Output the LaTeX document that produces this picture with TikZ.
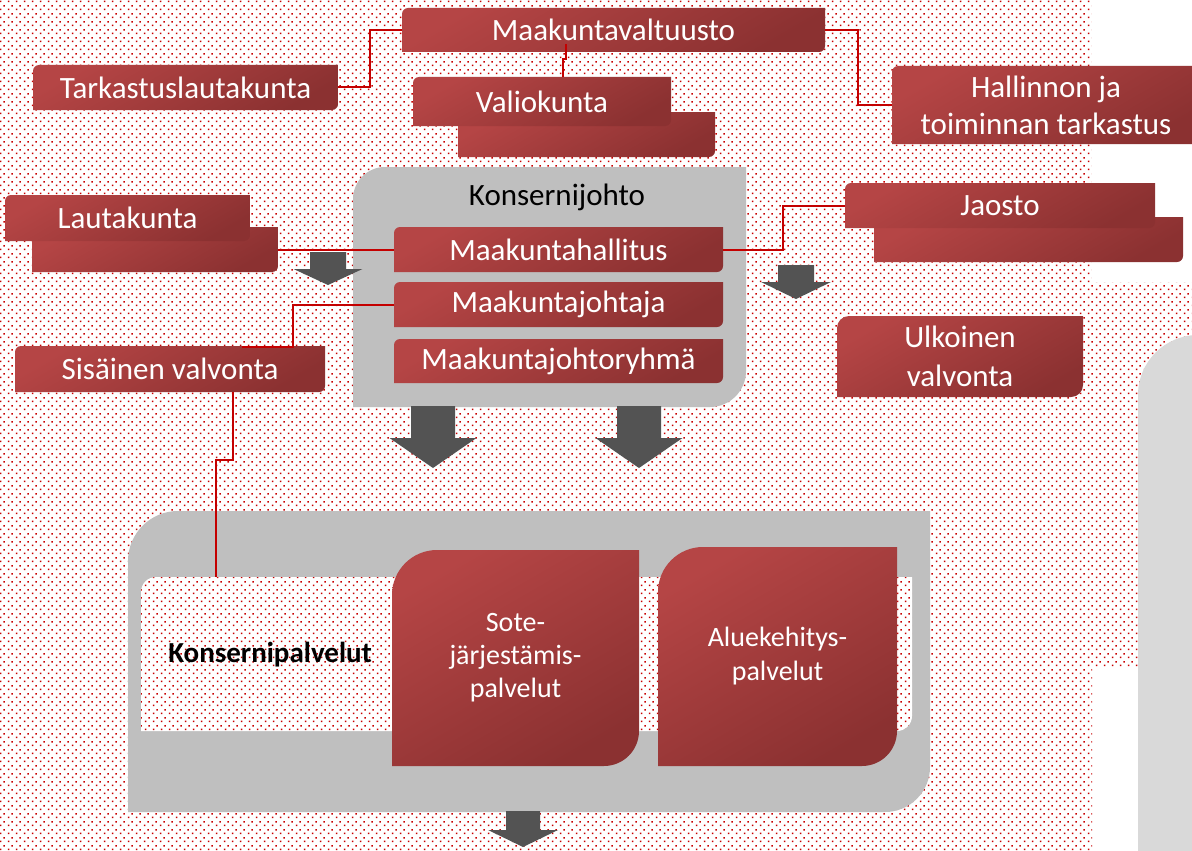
\documentclass[tikz,border=0pt]{standalone}
\usepackage{fontspec}
\setmainfont{Carlito}
\usetikzlibrary{patterns}
\definecolor{dotred}{RGB}{200,0,0}
\definecolor{linered}{RGB}{196,0,0}
\definecolor{rtop}{RGB}{181,69,69}
\definecolor{rbot}{RGB}{139,49,49}
\definecolor{gray1}{RGB}{191,191,191}
\definecolor{gray2}{RGB}{217,217,217}
\definecolor{arrowgray}{RGB}{83,83,83}
\pgfdeclarepatternformonly{reddots}{\pgfpointorigin}{\pgfqpoint{8pt}{8pt}}{\pgfqpoint{8pt}{8pt}}{%
  \pgfpathrectangle{\pgfqpoint{1pt}{1pt}}{\pgfqpoint{1.6pt}{1.6pt}}%
  \pgfpathrectangle{\pgfqpoint{5pt}{5pt}}{\pgfqpoint{1.6pt}{1.6pt}}%
  \pgfusepath{fill}}
% rectangle (x1,y1)-(x2,y2) in pixel coordinates, top-left radius #5, bottom-right radius #6
\newcommand\rdpath[6]{(#1,#4) -- (#1,#2+#5) .. controls (#1,#2+0.448*#5) and (#1+0.448*#5,#2) .. (#1+#5,#2) -- (#3,#2) -- (#3,#4-#6) .. controls (#3,#4-0.448*#6) and (#3-0.448*#6,#4) .. (#3-#6,#4) -- cycle}
% block arrow: centre x, top y, shaft half width, head base y, head half width, tip y
\newcommand\blockarrow[6]{\fill[arrowgray] (#1-#3,#2) -- (#1+#3,#2) -- (#1+#3,#4) -- (#1+#5,#4) -- (#1,#6) -- (#1-#5,#4) -- (#1-#3,#4) -- cycle;}
\tikzset{
  rbox/.style 2 args={rectangle, inner sep=0pt, outer sep=0pt, text=white, align=center,
    draw, draw opacity=0,
    path picture={%
      \pgfpointanchor{path picture bounding box}{south west}\pgfgetlastxy\rbxa\rbya
      \pgfpointanchor{path picture bounding box}{north east}\pgfgetlastxy\rbxb\rbyb
      \shade[top color=rtop, bottom color=rbot, shading angle=30]
        (\rbxa,\rbya) -- (\rbxa,\rbyb-#1)
        .. controls (\rbxa,\rbyb-0.448*#1) and (\rbxa+0.448*#1,\rbyb) .. (\rbxa+#1,\rbyb)
        -- (\rbxb,\rbyb) -- (\rbxb,\rbya+#2)
        .. controls (\rbxb,\rbya+0.448*#2) and (\rbxb-0.448*#2,\rbya) .. (\rbxb-#2,\rbya)
        -- cycle;}},
  tbox/.style={rbox={6pt}{6pt}, font=\fontsize{31}{37}\selectfont},
  conn/.style={draw=linered, line width=2pt},
  dots/.style={pattern=reddots, pattern color=dotred},
}
\begin{document}
\begin{tikzpicture}[x=1pt,y=-1pt]
\useasboundingbox (0,0) rectangle (1192,851);
\clip (0,0) rectangle (1192,851);
% background
\fill[white] (0,0) rectangle (1192,851);
\fill[dots] (0,0) -- (1091,0) -- (1091,282) -- (1192,282) -- (1192,668) -- (1092,668) -- (1092,851) -- (0,851) -- cycle;
\fill[gray2] \rdpath{1138}{335}{1215}{870}{60}{0};
% grey containers
\fill[gray1] \rdpath{353}{167}{746}{407}{32}{36};
\fill[gray1] \rdpath{128}{511}{930}{812}{50}{45};
\fill[white] \rdpath{141}{577}{912}{731}{15}{15};
\fill[dots] \rdpath{141}{577}{912}{731}{15}{15};
% block arrows
\blockarrow{328}{252}{18}{269}{34.5}{285}
\blockarrow{796}{265}{18}{282}{35}{299}
\blockarrow{433}{406}{22}{438}{43.5}{468}
\blockarrow{639}{406}{22}{438}{43.5}{468}
\blockarrow{523}{811}{17}{830}{35}{847}
% top level boxes
\node[tbox, minimum width=423pt, minimum height=44pt] (mv) at (613.5,30) {Maakuntavaltuusto};
\node[tbox, minimum width=305pt, minimum height=45pt] (tl) at (185.5,87.5) {Tarkastuslautakunta};
\node[tbox, minimum width=308pt, minimum height=78pt] (hj) at (1046,105) {Hallinnon ja\\toiminnan tarkastus};
\node[tbox, minimum width=257pt, minimum height=45pt] (vkb) at (586.5,134.5) {};
\node[tbox, minimum width=258pt, minimum height=49pt] (vk) at (542,101.5) {Valiokunta};
\node[tbox, minimum width=246pt, minimum height=45pt] (lkb) at (155,249.5) {};
\node[tbox, minimum width=245pt, minimum height=46pt] (lk) at (127.5,218) {Lautakunta};
\node[tbox, minimum width=310pt, minimum height=46pt] (sv) at (170,369) {Sisäinen valvonta};
\node[tbox, minimum width=309pt, minimum height=45pt] (jab) at (1028.5,239.5) {};
\node[tbox, minimum width=310pt, minimum height=45pt] (ja) at (1000,205.5) {Jaosto};
\node[rbox={12pt}{12pt}, font=\fontsize{31}{39}\selectfont, minimum width=246pt, minimum height=81pt] (uv) at (960,356.5) {Ulkoinen\\valvonta};
% Konsernijohto
\node[font=\fontsize{31}{37}\selectfont, text=black] (kjt) at (557,197) {Konsernijohto};
\node[tbox, minimum width=329pt, minimum height=45pt] (mh) at (558.5,249.5) {Maakuntahallitus};
\node[tbox, minimum width=329pt, minimum height=45pt] (mj) at (558.5,304.5) {Maakuntajohtaja};
\node[tbox, minimum width=329pt, minimum height=44pt] (mr) at (558.5,361) {Maakuntajohtoryhmä};
% Konsernipalvelut
\node[font=\bfseries\fontsize{29}{34}\selectfont, text=black] (kpt) at (270,655) {Konsernipalvelut};
\node[rbox={45pt}{35pt}, font=\fontsize{28}{33}\selectfont, minimum width=247pt, minimum height=216pt] (sote) at (515.5,658) {Sote-\\järjestämis-\\palvelut};
\node[rbox={45pt}{35pt}, font=\fontsize{28}{34}\selectfont, minimum width=239pt, minimum height=219pt] (alue) at (777.5,656.5) {Aluekehitys-\\palvelut};
\coordinate (kpin) at (216,577);
% connectors
\draw[conn] (tl.east) -- ++(32,0) |- (mv.west);
\draw[conn] (mv.east) -- ++(33,0) |- (hj.west);
\draw[conn] ([xshift=-47.5pt,yshift=8pt]mv.south) -- ++(0,15) -- ++(-3,0) -- ([xshift=21pt]vk.north);
\draw[conn] (lkb.east) -- (mh.west);
\draw[conn] (mh.east) -- ++(60,0) |- (ja.west);
\draw[conn] (mj.west) -- ++(-101,0) |- ([xshift=72pt,yshift=-1pt]sv.north);
\draw[conn] ([xshift=63pt]sv.south) -- ++(0,68) -| (kpin);
\end{tikzpicture}
\end{document}
